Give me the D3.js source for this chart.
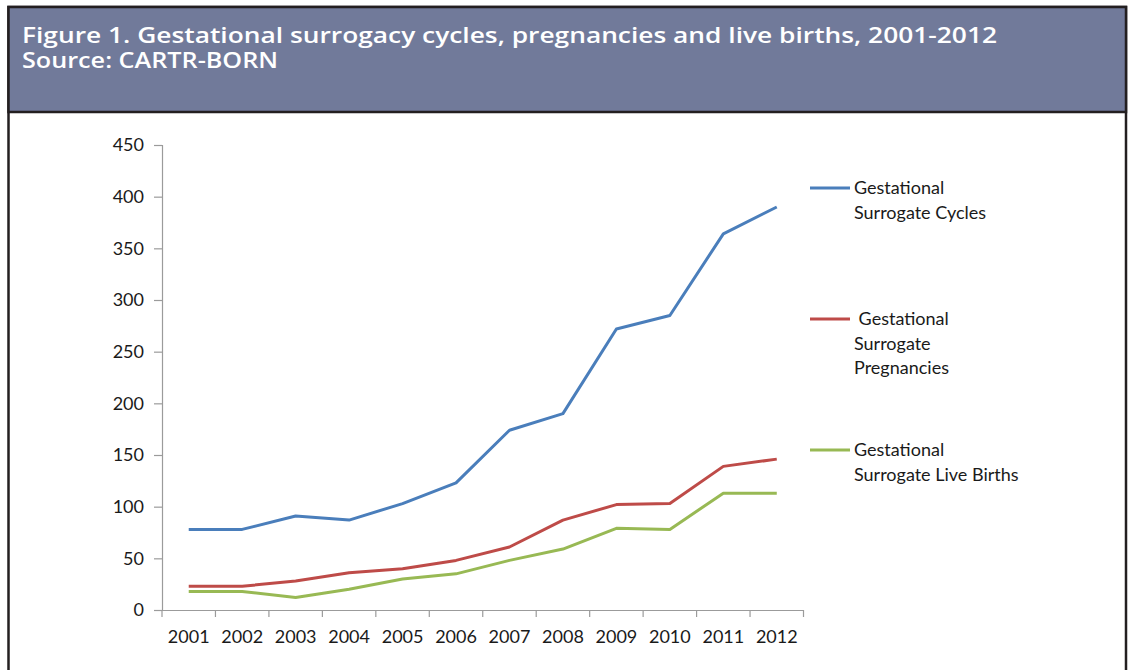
<!DOCTYPE html>
<html>
<head>
<meta charset="utf-8">
<script src="https://cdn.jsdelivr.net/npm/d3@7"></script>
<style>
  body { margin: 0; background: #fff; }
  svg { display: block; }
</style>
</head>
<body>
<svg id="chart"></svg>
<script>
var years = ["2001", "2002", "2003", "2004", "2005", "2006", "2007", "2008", "2009", "2010", "2011", "2012"];
var cycles = [78, 78, 91, 87, 103, 123, 174, 190, 272, 285, 364, 390];
var pregnancies = [23, 23, 28, 36, 40, 48, 61, 87, 102, 103, 139, 146];
var liveBirths = [18, 18, 12, 20, 30, 35, 48, 59, 79, 78, 113, 113];
var yTicks = [0, 50, 100, 150, 200, 250, 300, 350, 400, 450];

var titleLines = ["Figure 1. Gestational surrogacy cycles, pregnancies and live births, 2001-2012", "Source: CARTR-BORN"];
var titleWidths = [975, 256];

var series = [
  { name: ["Gestational", "Surrogate Cycles"], values: cycles, color: "#4a7ebb", legendY: 188 },
  { name: [" Gestational", "Surrogate", "Pregnancies"], values: pregnancies, color: "#be4b48", legendY: 319 },
  { name: ["Gestational", "Surrogate Live Births"], values: liveBirths, color: "#98b954", legendY: 450 }
];

var svgWidth = 1129, svgHeight = 670;
var svg = d3.select("#chart")
  .attr("width", svgWidth)
  .attr("height", svgHeight);

// frame + title banner
svg.append("rect")
  .attr("x", 8.5).attr("y", 7)
  .attr("width", 1117.5).attr("height", 700)
  .attr("fill", "#fff")
  .attr("stroke", "#231f20")
  .attr("stroke-width", 2.5);

svg.append("rect")
  .attr("x", 8.5).attr("y", 7)
  .attr("width", 1117.5).attr("height", 105)
  .attr("fill", "#717a9a")
  .attr("stroke", "#231f20")
  .attr("stroke-width", 2.5);

svg.append("text")
  .attr("x", 22).attr("y", 43)
  .attr("fill", "#fff")
  .attr("font-family", "'Open Sans', sans-serif")
  .attr("font-weight", 600)
  .attr("font-size", 21)
  .selectAll("tspan")
  .data(titleLines)
  .enter().append("tspan")
  .attr("x", 22)
  .attr("dy", function(d, i) { return i === 0 ? 0 : 25; })
  .attr("textLength", function(d, i) { return titleWidths[i]; })
  .attr("lengthAdjust", "spacingAndGlyphs")
  .text(function(d) { return d; });

// plot
var margin = { top: 145, left: 162 };
var width = 641.5, height = 465;

var g = svg.append("g")
  .attr("transform", "translate(" + margin.left + "," + margin.top + ")");

var x = d3.scaleBand().domain(years).range([0, width]);
var y = d3.scaleLinear().domain([0, 450]).range([height, 0]);

var yAxis = g.append("g")
  .call(d3.axisLeft(y).tickValues(yTicks).tickSize(8).tickPadding(10));

var xAxis = g.append("g")
  .attr("transform", "translate(0," + height + ")")
  .call(d3.axisBottom(x).tickSize(0).tickPadding(20));

// tick marks sit on band edges, like Excel
xAxis.selectAll(".edge")
  .data(years.concat(["end"]))
  .enter().append("line")
  .attr("class", "edge")
  .attr("x1", function(d, i) { return i * x.step(); })
  .attr("x2", function(d, i) { return i * x.step(); })
  .attr("y1", 0).attr("y2", 7);

[yAxis, xAxis].forEach(function(a) {
  a.selectAll("path, line").attr("stroke", "#9b9b9b").attr("stroke-width", 1.2);
  a.selectAll("text")
    .attr("fill", "#1a1a1a")
    .attr("font-family", "Lato, sans-serif")
    .attr("font-size", 18);
});

var line = d3.line()
  .x(function(d, i) { return x(years[i]) + x.bandwidth() / 2; })
  .y(function(d) { return y(d); });

series.forEach(function(s) {
  g.append("path")
    .datum(s.values)
    .attr("fill", "none")
    .attr("stroke", s.color)
    .attr("stroke-width", 3)
    .attr("stroke-linejoin", "round")
    .attr("d", line);
});

// legend
var legend = svg.append("g");
series.forEach(function(s) {
  legend.append("line")
    .attr("x1", 810).attr("x2", 850)
    .attr("y1", s.legendY).attr("y2", s.legendY)
    .attr("stroke", s.color)
    .attr("stroke-width", 3);

  legend.append("text")
    .attr("x", 854)
    .attr("y", s.legendY + 6)
    .attr("fill", "#1a1a1a")
    .attr("font-family", "Lato, sans-serif")
    .attr("font-size", 18)
    .attr("xml:space", "preserve")
    .style("white-space", "pre")
    .selectAll("tspan")
    .data(s.name)
    .enter().append("tspan")
    .attr("x", 854)
    .attr("dy", function(d, i) { return i === 0 ? 0 : 24.5; })
    .text(function(d) { return d; });
});
</script>
</body>
</html>
